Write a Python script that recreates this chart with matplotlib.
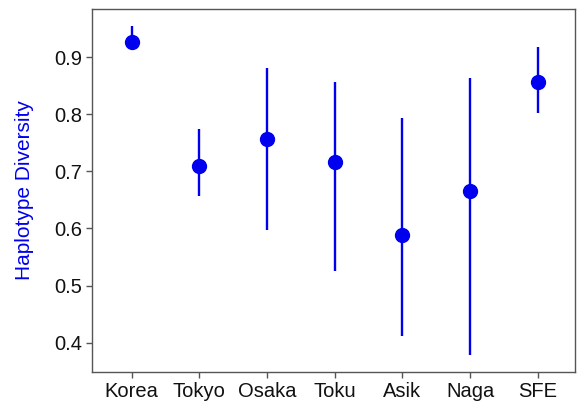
import numpy as np
import matplotlib
matplotlib.use("Agg")
import matplotlib.pyplot as plt

plt.rcParams['font.family'] = ['Liberation Sans', 'DejaVu Sans']

populations = ['Korea', 'Tokyo', 'Osaka', 'Toku', 'Asik', 'Naga', 'SFE']
diversity = [0.927, 0.710, 0.757, 0.717, 0.588, 0.666, 0.856]
lower = [0.915, 0.657, 0.597, 0.526, 0.412, 0.378, 0.803]
upper = [0.955, 0.775, 0.882, 0.857, 0.793, 0.864, 0.918]
yticks = [0.4, 0.5, 0.6, 0.7, 0.8, 0.9]

x = np.arange(1, len(populations) + 1)
div = np.array(diversity)
err = np.vstack([div - np.array(lower), np.array(upper) - div])

fig = plt.figure(figsize=(5.85, 4.03), dpi=100)
ax = fig.add_axes([92 / 585, 1 - 372 / 403, 483 / 585, 363 / 403])

ax.errorbar(x, div, yerr=err, fmt='o', color='#0000ee', ecolor='#0000ee',
            elinewidth=1.7, markersize=10, capsize=0)

ax.set_xlim(0.414, 7.55)
ax.set_ylim(0.3484, 0.9847)
ax.set_xticks(x)
ax.set_xticklabels(populations)
ax.set_yticks(yticks)
ax.set_yticklabels(['%.1f' % v for v in yticks])

for s in ax.spines.values():
    s.set_color('#555555')
    s.set_linewidth(1.0)
ax.tick_params(axis='both', colors='#555555', length=4.3, width=1.0,
               labelsize=14.5, labelcolor='#111111', pad=3)

ax.set_ylabel('Haplotype Diversity', color='#0000ee', fontsize=15)
ax.yaxis.set_label_coords(-0.120, 0.5)

fig.savefig('out.png', dpi=100)
